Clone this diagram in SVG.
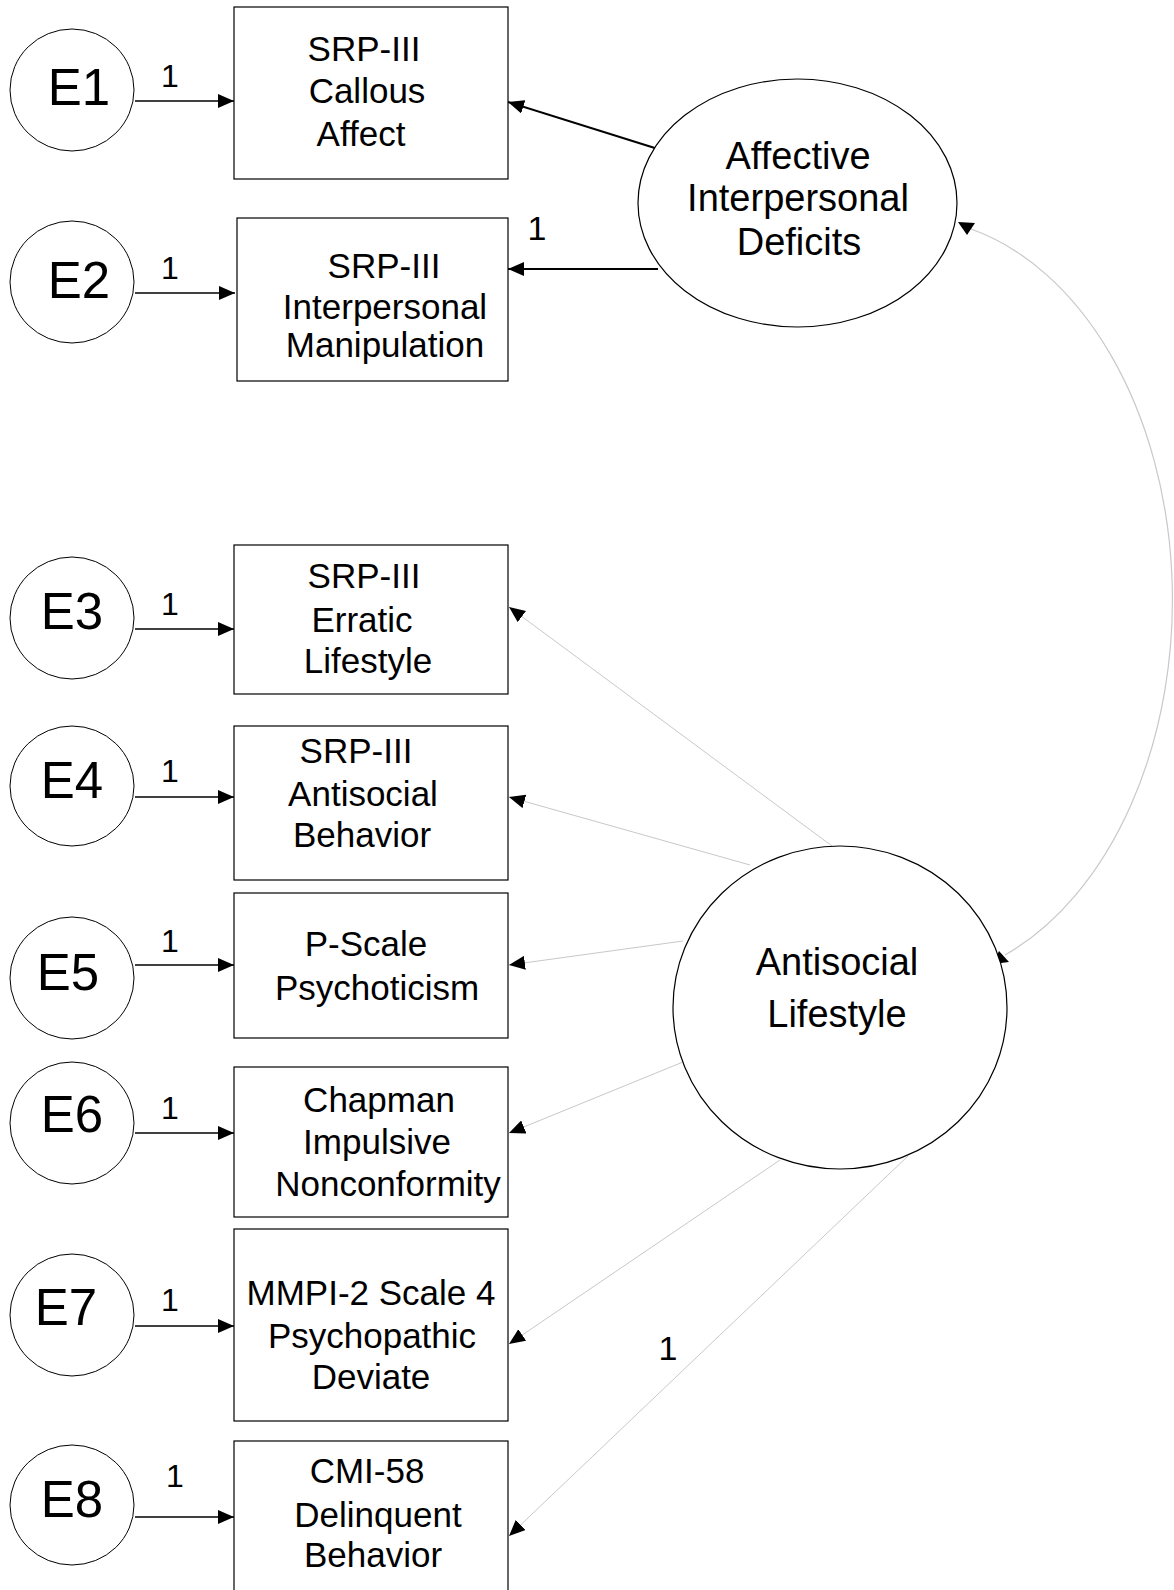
<svg xmlns="http://www.w3.org/2000/svg" width="1174" height="1590" viewBox="0 0 1174 1590">
  <style>
    text { font-family: "Liberation Sans", Arial, sans-serif; fill: #000; text-anchor: middle; }
    .obs { fill: #fff; stroke: #000; stroke-width: 1.2; }
    .err { fill: #fff; stroke: #000; stroke-width: 1; }
    .lat { fill: #fff; stroke: #000; stroke-width: 1.2; }
    .box-t { font-size: 35px; }
    .err-t { font-size: 51px; }
    .lat-t { font-size: 38px; }
    .w { font-size: 32px; }
    .w2 { font-size: 34px; }
    .e-arrow { stroke: #000; stroke-width: 1.6; fill: none; marker-end: url(#head); }
    .a-arrow { stroke: #000; stroke-width: 2; fill: none; marker-end: url(#head); }
    .l-arrow { stroke: #c8c8c8; stroke-width: 1; fill: none; marker-end: url(#head); }
    .cov { stroke: #c8c8c8; stroke-width: 1.2; fill: none; }
    .tri { fill: #000; }
  </style>
  <defs>
    <marker id="head" markerUnits="userSpaceOnUse" markerWidth="16" markerHeight="14" refX="16" refY="7" orient="auto">
      <path d="M0,0 L16,7 L0,14 z" fill="#000"/>
    </marker>
  </defs>

  <rect width="1174" height="1590" fill="#fff"/>

  <!-- connectors -->
  <g id="connectors">
    <!-- error terms to indicators -->
    <line class="e-arrow" x1="135" y1="101" x2="234" y2="101"/>
    <line class="e-arrow" x1="135" y1="293" x2="235" y2="293"/>
    <line class="e-arrow" x1="135" y1="629" x2="234" y2="629"/>
    <line class="e-arrow" x1="135" y1="797" x2="234" y2="797"/>
    <line class="e-arrow" x1="135" y1="965" x2="234" y2="965"/>
    <line class="e-arrow" x1="135" y1="1133" x2="234" y2="1133"/>
    <line class="e-arrow" x1="135" y1="1326" x2="234" y2="1326"/>
    <line class="e-arrow" x1="135" y1="1517" x2="234" y2="1517"/>

    <!-- Affective Interpersonal Deficits loadings -->
    <line class="a-arrow" x1="658" y1="149" x2="508" y2="102"/>
    <line class="a-arrow" x1="658" y1="269" x2="508" y2="269"/>

    <!-- Antisocial Lifestyle loadings -->
    <line class="l-arrow" x1="832" y1="846" x2="509" y2="607"/>
    <line class="l-arrow" x1="750" y1="865" x2="509" y2="797"/>
    <line class="l-arrow" x1="683" y1="941" x2="509" y2="965"/>
    <line class="l-arrow" x1="683" y1="1062" x2="509" y2="1133"/>
    <line class="l-arrow" x1="780" y1="1160" x2="509" y2="1344"/>
    <line class="l-arrow" x1="908" y1="1156" x2="509" y2="1536"/>

    <!-- factor covariance -->
    <path class="cov" d="M971,229 A265,382 0 0 1 1005,955"/>
    <polygon class="tri" points="958,222 975,223 967,235"/>
    <polygon class="tri" points="999,951 1009,962 993,964"/>

    <!-- fixed path weights -->
    <text class="w" x="170" y="87">1</text>
    <text class="w" x="170" y="279">1</text>
    <text class="w" x="170" y="615">1</text>
    <text class="w" x="170" y="782">1</text>
    <text class="w" x="170" y="952">1</text>
    <text class="w" x="170" y="1119">1</text>
    <text class="w" x="170" y="1311">1</text>
    <text class="w" x="175" y="1487">1</text>
    <text class="w2" x="537" y="240">1</text>
    <text class="w2" x="668" y="1360">1</text>
  </g>

  <!-- error terms -->
  <g id="E1"><ellipse class="err" cx="72" cy="90" rx="62" ry="61"/><text class="err-t" x="79" y="105">E1</text></g>
  <g id="E2"><ellipse class="err" cx="72" cy="282" rx="62" ry="61"/><text class="err-t" x="79" y="298">E2</text></g>
  <g id="E3"><ellipse class="err" cx="72" cy="618" rx="62" ry="61"/><text class="err-t" x="72" y="629">E3</text></g>
  <g id="E4"><ellipse class="err" cx="72" cy="786" rx="62" ry="60"/><text class="err-t" x="72" y="798">E4</text></g>
  <g id="E5"><ellipse class="err" cx="72" cy="978" rx="62" ry="61"/><text class="err-t" x="68" y="990">E5</text></g>
  <g id="E6"><ellipse class="err" cx="72" cy="1123" rx="62" ry="61"/><text class="err-t" x="72" y="1132">E6</text></g>
  <g id="E7"><ellipse class="err" cx="72" cy="1315" rx="62" ry="61"/><text class="err-t" x="66" y="1325">E7</text></g>
  <g id="E8"><ellipse class="err" cx="72" cy="1505" rx="62" ry="60"/><text class="err-t" x="72" y="1517">E8</text></g>

  <!-- observed indicators -->
  <g id="srp-callous">
    <rect class="obs" x="234" y="7" width="274" height="172"/>
    <text class="box-t" x="364" y="61">SRP-III</text>
    <text class="box-t" x="367" y="103">Callous</text>
    <text class="box-t" x="361" y="146">Affect</text>
  </g>
  <g id="srp-interpersonal">
    <rect class="obs" x="237" y="218" width="271" height="163"/>
    <text class="box-t" x="384" y="278">SRP-III</text>
    <text class="box-t" x="385" y="319">Interpersonal</text>
    <text class="box-t" x="385" y="357">Manipulation</text>
  </g>
  <g id="srp-erratic">
    <rect class="obs" x="234" y="545" width="274" height="149"/>
    <text class="box-t" x="364" y="588">SRP-III</text>
    <text class="box-t" x="362" y="632">Erratic</text>
    <text class="box-t" x="368" y="673">Lifestyle</text>
  </g>
  <g id="srp-antisocial">
    <rect class="obs" x="234" y="726" width="274" height="154"/>
    <text class="box-t" x="356" y="763">SRP-III</text>
    <text class="box-t" x="363" y="806">Antisocial</text>
    <text class="box-t" x="362" y="847">Behavior</text>
  </g>
  <g id="p-scale">
    <rect class="obs" x="234" y="893" width="274" height="145"/>
    <text class="box-t" x="366" y="956">P-Scale</text>
    <text class="box-t" x="377" y="1000">Psychoticism</text>
  </g>
  <g id="chapman">
    <rect class="obs" x="234" y="1067" width="274" height="150"/>
    <text class="box-t" x="379" y="1112">Chapman</text>
    <text class="box-t" x="377" y="1154">Impulsive</text>
    <text class="box-t" x="388" y="1196">Nonconformity</text>
  </g>
  <g id="mmpi">
    <rect class="obs" x="234" y="1229" width="274" height="192"/>
    <text class="box-t" x="371" y="1305">MMPI-2 Scale 4</text>
    <text class="box-t" x="372" y="1348">Psychopathic</text>
    <text class="box-t" x="371" y="1389">Deviate</text>
  </g>
  <g id="cmi">
    <rect class="obs" x="234" y="1441" width="274" height="170"/>
    <text class="box-t" x="367" y="1483">CMI-58</text>
    <text class="box-t" x="378" y="1527">Delinquent</text>
    <text class="box-t" x="373" y="1567">Behavior</text>
  </g>

  <!-- latent factors -->
  <g id="affective">
    <ellipse class="lat" cx="797.5" cy="203" rx="159.5" ry="124"/>
    <text class="lat-t" x="798" y="169">Affective</text>
    <text class="lat-t" x="798" y="211">Interpersonal</text>
    <text class="lat-t" x="799" y="255">Deficits</text>
  </g>
  <g id="antisocial">
    <ellipse class="lat" cx="840" cy="1007.5" rx="167" ry="161.5"/>
    <text class="lat-t" x="837" y="975">Antisocial</text>
    <text class="lat-t" x="837" y="1027">Lifestyle</text>
  </g>
</svg>
